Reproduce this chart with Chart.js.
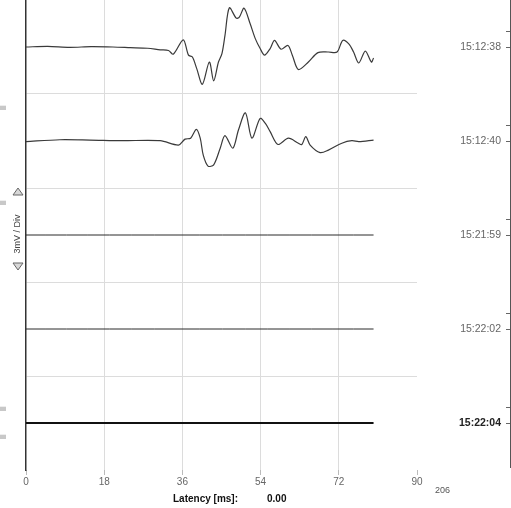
<!DOCTYPE html>
<html>
<head>
<meta charset="utf-8">
<script src="https://cdn.jsdelivr.net/npm/chart.js@4/dist/chart.umd.min.js"></script>
<style>
  html, body { margin: 0; padding: 0; background: #fff; overflow: hidden; }
  canvas { display: block; }
</style>
</head>
<body>
<canvas id="myChart" width="511" height="508"></canvas>
<script>
// latency ticks (ms)
const xTicks = [0, 18, 36, 54, 72, 90];

// trace 1 (15:12:38), latency in ms and amplitude in mV
const trace1Ms = [0, 5, 10, 15, 20, 24, 28, 30.9, 32.8, 33.9, 36.2, 37.4, 38.3, 39.3, 40.6, 42.2, 43.2, 44.3, 45.1, 45.8, 46.8, 48.4, 49.1, 50.2, 51.6, 52.8, 53.9, 54.9, 56.2, 57.2, 58.7, 60.3, 61.3, 62.7, 65.0, 67.2, 69.6, 71.6, 72.9, 74.3, 75.4, 76.6, 78.1, 79.5, 80];
const trace1Mv = [0, 0.02, -0.01, 0.01, 0, -0.02, -0.04, -0.09, -0.11, -0.23, 0.23, -0.26, -0.32, -0.69, -1.19, -0.48, -1.08, -0.48, -0.21, 0.37, 1.25, 0.92, 0.95, 1.24, 0.74, 0.26, -0.05, -0.26, -0.05, 0.21, -0.07, 0.05, -0.26, -0.72, -0.48, -0.18, -0.16, -0.16, 0.21, 0.10, -0.16, -0.51, -0.13, -0.48, -0.35];

// trace 2 (15:12:40)
const trace2Ms = [0, 7.8, 14.7, 22, 30.9, 35.1, 36.6, 37.9, 39.2, 40.1, 40.8, 41.9, 43.2, 44.7, 45.8, 47.6, 48.9, 50.5, 52.0, 53.9, 55.1, 56.2, 58.0, 60.4, 62.7, 63.5, 64.4, 65.4, 67.7, 69.6, 72.7, 75.0, 76.6, 80];
const trace2Mv = [-0.02, 0.04, 0.03, 0.01, 0.01, -0.13, 0.06, 0.09, 0.37, 0.09, -0.45, -0.80, -0.76, -0.23, 0.17, -0.23, 0.35, 0.90, 0.09, 0.72, 0.56, 0.30, -0.11, 0.09, -0.07, -0.11, 0.14, -0.13, -0.37, -0.29, -0.07, 0.01, -0.02, 0.03];

// traces 3-5 are flat
const flatMs = [0, 80];
const flatMv = [0, 0];

const timeLabels = ['15:12:38', '15:12:40', '15:21:59', '15:22:02', '15:22:04'];
const rowCenters = [4.5, 3.5, 2.5, 1.5, 0.5];
const mvPerDiv = 3;

function buildPoints(ms, mv, row) {
    return ms.map(function(x, i) {
        return { x: x, y: rowCenters[row] + mv[i] / mvPerDiv };
    });
}

const traceMs = [trace1Ms, trace2Ms, flatMs, flatMs, flatMs];
const traceMv = [trace1Mv, trace2Mv, flatMv, flatMv, flatMv];

const datasets = traceMs.map(function(ms, i) {
    const selected = i === 4;
    const flat = i >= 2;
    return {
        label: timeLabels[i],
        data: buildPoints(ms, traceMv[i], i),
        borderColor: selected ? '#111' : (flat ? '#2a2a2a' : '#3a3a3a'),
        borderWidth: selected ? 2 : (flat ? 1 : 1.2),
        pointRadius: 0,
        tension: 0.3,
        fill: false
    };
});

// extra drawing: right axis, time stamps, left controls, footer text
const decorations = {
    id: 'decorations',
    afterDraw: function(chart) {
        const ctx = chart.ctx;
        const y = chart.scales.y;
        ctx.save();

        // right side axis
        ctx.strokeStyle = '#555';
        ctx.lineWidth = 1;
        ctx.beginPath();
        ctx.moveTo(510.5, 0);
        ctx.lineTo(510.5, 468);
        ctx.stroke();

        rowCenters.forEach(function(v, i) {
            const py = Math.round(y.getPixelForValue(v));
            ctx.strokeStyle = '#666';
            ctx.beginPath();
            ctx.moveTo(506, py - 16 + 0.5);
            ctx.lineTo(510, py - 16 + 0.5);
            ctx.moveTo(506, py + 0.5);
            ctx.lineTo(510, py + 0.5);
            ctx.stroke();

            const bold = i === 4;
            ctx.font = (bold ? 'bold ' : '') + '10.5px "Liberation Sans", Arial, sans-serif';
            ctx.fillStyle = bold ? '#222' : '#666';
            ctx.textAlign = 'right';
            ctx.textBaseline = 'middle';
            ctx.fillText(timeLabels[i], 501, py);
        });

        // little grey buttons on the far left
        [107, 202, 408, 436].forEach(function(by) {
            ctx.fillStyle = '#c8c8c8';
            ctx.fillRect(0, by - 2, 6, 5);
            ctx.fillStyle = '#eee';
            ctx.fillRect(0, by - 2, 6, 1);
        });

        // gain arrows
        ctx.fillStyle = '#d8d8d8';
        ctx.strokeStyle = '#666';
        ctx.beginPath();
        ctx.moveTo(18, 188);
        ctx.lineTo(23, 195);
        ctx.lineTo(13, 195);
        ctx.closePath();
        ctx.fill();
        ctx.stroke();
        ctx.beginPath();
        ctx.moveTo(13, 263);
        ctx.lineTo(23, 263);
        ctx.lineTo(18, 270);
        ctx.closePath();
        ctx.fill();
        ctx.stroke();

        ctx.save();
        ctx.translate(18, 234);
        ctx.rotate(-Math.PI / 2);
        ctx.font = '9px "Liberation Sans", Arial, sans-serif';
        ctx.fillStyle = '#444';
        ctx.textAlign = 'center';
        ctx.textBaseline = 'middle';
        ctx.fillText('3mV / Div', 0, 0);
        ctx.restore();

        // footer
        ctx.font = 'bold 10px "Liberation Sans", Arial, sans-serif';
        ctx.fillStyle = '#111';
        ctx.textAlign = 'left';
        ctx.textBaseline = 'middle';
        ctx.fillText('Latency [ms]:', 173, 499);
        ctx.fillText('0.00', 267, 499);

        ctx.font = '9px "Liberation Sans", Arial, sans-serif';
        ctx.fillStyle = '#555';
        ctx.fillText('206', 435, 491);

        ctx.restore();
    }
};

const ctx = document.getElementById('myChart').getContext('2d');
const myChart = new Chart(ctx, {
    type: 'line',
    data: { datasets: datasets },
    options: {
        responsive: false,
        animation: false,
        layout: { padding: { left: 26, right: 94, top: 0, bottom: 0 } },
        plugins: {
            legend: { display: false },
            tooltip: { enabled: false }
        },
        scales: {
            x: {
                type: 'linear',
                min: 0,
                max: 90,
                afterBuildTicks: function(scale) {
                    scale.ticks = xTicks.map(function(v) { return { value: v }; });
                },
                afterFit: function(scale) { scale.height = 38; },
                border: { display: false },
                grid: {
                    color: function(c) {
                        return c.tick && c.tick.value > 0 && c.tick.value < 90 ? '#dcdcdc' : 'rgba(0,0,0,0)';
                    },
                    tickColor: '#bbb',
                    tickLength: 5,
                    lineWidth: 1
                },
                ticks: {
                    color: '#666',
                    padding: 1,
                    maxRotation: 0,
                    font: { size: 10, family: '"Liberation Sans", Arial, sans-serif' }
                }
            },
            y: {
                type: 'linear',
                min: 0,
                max: 5,
                afterFit: function(scale) { scale.width = 0; },
                border: { display: true, color: '#333', width: 1.5 },
                grid: {
                    color: function(c) {
                        return c.tick && c.tick.value > 0 && c.tick.value < 5 ? '#dcdcdc' : 'rgba(0,0,0,0)';
                    },
                    drawTicks: false
                },
                ticks: { display: false, stepSize: 1 }
            }
        }
    },
    plugins: [decorations]
});
</script>
</body>
</html>
